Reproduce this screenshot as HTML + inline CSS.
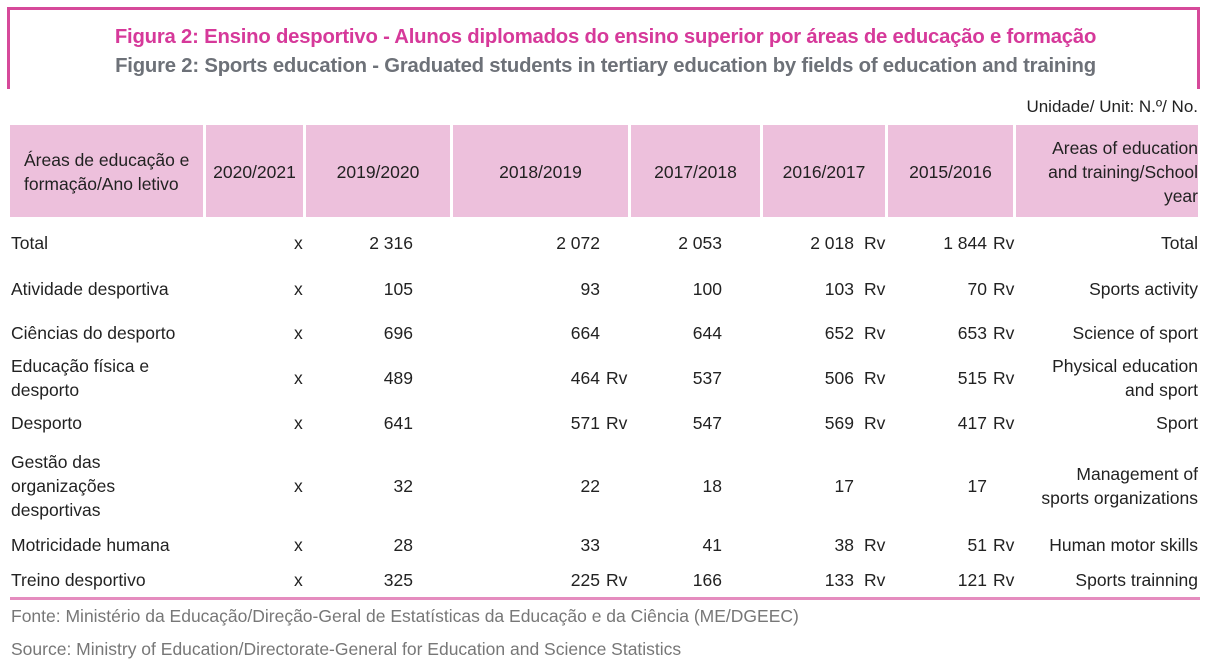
<!DOCTYPE html>
<html><head><meta charset="utf-8"><style>
body{margin:0;width:1211px;height:671px;background:#fff;position:relative;overflow:hidden;font-family:"Liberation Sans",sans-serif;color:#222;}
.a{position:absolute;white-space:nowrap;font-size:17.5px;line-height:24px;}
.h{position:absolute;top:125px;height:92px;background:#edc0dc;display:flex;align-items:center;justify-content:center;text-align:center;font-size:17.5px;line-height:24px;padding-top:1px;box-sizing:border-box;}
.r{text-align:right;}
</style></head><body>
<div style="position:absolute;left:8px;top:7px;width:1191px;height:3px;background:#d6499a"></div>
<div style="position:absolute;left:7px;top:7px;width:3px;height:82px;background:#d6499a"></div>
<div style="position:absolute;left:1197px;top:7px;width:3px;height:82px;background:#d6499a"></div>
<div class="a" style="left:0;width:1211px;text-align:center;top:25px;font-weight:bold;font-size:20.3px;color:#d6399a;letter-spacing:-0.2px">Figura 2: Ensino desportivo - Alunos diplomados do ensino superior por áreas de educação e formação</div>
<div class="a" style="left:0;width:1211px;text-align:center;top:54px;font-weight:bold;font-size:20.3px;color:#6d7178;letter-spacing:-0.2px">Figure 2: Sports education - Graduated students in tertiary education by fields of education and training</div>
<div class="a r" style="right:13px;top:95px;font-size:17px">Unidade/ Unit: N.º/ No.</div>
<div class="h" style="left:10px;width:193px;justify-content:flex-start;text-align:left;padding-left:14px">Áreas de educação e<br>formação/Ano letivo</div>
<div class="h" style="left:206px;width:97px">2020/2021</div>
<div class="h" style="left:306px;width:144px">2019/2020</div>
<div class="h" style="left:453px;width:175px">2018/2019</div>
<div class="h" style="left:631px;width:129px">2017/2018</div>
<div class="h" style="left:763px;width:122px">2016/2017</div>
<div class="h" style="left:888px;width:125px">2015/2016</div>
<div class="h" style="left:1016px;width:182px;justify-content:flex-end;text-align:right">Areas of education<br>and training/School<br>year</div>

<div style="position:absolute;left:10px;top:597px;width:1190px;height:3px;background:#e58cbf"></div>
<div class="a" style="left:11px;top:604px;color:#777;font-size:17.5px">Fonte: Ministério da Educação/Direção-Geral de Estatísticas da Educação e da Ciência (ME/DGEEC)</div>
<div class="a" style="left:11px;top:637px;color:#777;font-size:17.5px">Source: Ministry of Education/Directorate-General for Education and Science Statistics</div>

<div class="a" style="left:11px;top:231px">Total</div>
<div class="a" style="left:11px;top:277px">Atividade desportiva</div>
<div class="a" style="left:11px;top:321px">Ciências do desporto</div>
<div class="a" style="left:11px;top:354px">Educação física e<br>desporto</div>
<div class="a" style="left:11px;top:411px">Desporto</div>
<div class="a" style="left:11px;top:450px">Gestão das<br>organizações<br>desportivas</div>
<div class="a" style="left:11px;top:533px">Motricidade humana</div>
<div class="a" style="left:11px;top:568px">Treino desportivo</div>

<div class="a r" style="right:13px;top:231px">Total</div>
<div class="a r" style="right:13px;top:277px">Sports activity</div>
<div class="a r" style="right:13px;top:321px">Science of sport</div>
<div class="a r" style="right:13px;top:354px">Physical education<br>and sport</div>
<div class="a r" style="right:13px;top:411px">Sport</div>
<div class="a r" style="right:13px;top:462px">Management of<br>sports organizations</div>
<div class="a r" style="right:13px;top:533px">Human motor skills</div>
<div class="a r" style="right:13px;top:568px">Sports trainning</div>

<div class="a" style="left:294px;top:231px">x</div>
<div class="a" style="left:294px;top:277px">x</div>
<div class="a" style="left:294px;top:321px">x</div>
<div class="a" style="left:294px;top:366px">x</div>
<div class="a" style="left:294px;top:411px">x</div>
<div class="a" style="left:294px;top:474px">x</div>
<div class="a" style="left:294px;top:533px">x</div>
<div class="a" style="left:294px;top:568px">x</div>

<div class="a r" style="right:798px;top:231px">2 316</div>
<div class="a r" style="right:798px;top:277px">105</div>
<div class="a r" style="right:798px;top:321px">696</div>
<div class="a r" style="right:798px;top:366px">489</div>
<div class="a r" style="right:798px;top:411px">641</div>
<div class="a r" style="right:798px;top:474px">32</div>
<div class="a r" style="right:798px;top:533px">28</div>
<div class="a r" style="right:798px;top:568px">325</div>

<div class="a r" style="right:611px;top:231px">2 072</div>
<div class="a r" style="right:611px;top:277px">93</div>
<div class="a r" style="right:611px;top:321px">664</div>
<div class="a r" style="right:611px;top:366px">464</div><div class="a" style="left:606px;top:366px">Rv</div>
<div class="a r" style="right:611px;top:411px">571</div><div class="a" style="left:606px;top:411px">Rv</div>
<div class="a r" style="right:611px;top:474px">22</div>
<div class="a r" style="right:611px;top:533px">33</div>
<div class="a r" style="right:611px;top:568px">225</div><div class="a" style="left:606px;top:568px">Rv</div>

<div class="a r" style="right:489px;top:231px">2 053</div>
<div class="a r" style="right:489px;top:277px">100</div>
<div class="a r" style="right:489px;top:321px">644</div>
<div class="a r" style="right:489px;top:366px">537</div>
<div class="a r" style="right:489px;top:411px">547</div>
<div class="a r" style="right:489px;top:474px">18</div>
<div class="a r" style="right:489px;top:533px">41</div>
<div class="a r" style="right:489px;top:568px">166</div>

<div class="a r" style="right:357px;top:231px">2 018</div><div class="a" style="left:864px;top:231px">Rv</div>
<div class="a r" style="right:357px;top:277px">103</div><div class="a" style="left:864px;top:277px">Rv</div>
<div class="a r" style="right:357px;top:321px">652</div><div class="a" style="left:864px;top:321px">Rv</div>
<div class="a r" style="right:357px;top:366px">506</div><div class="a" style="left:864px;top:366px">Rv</div>
<div class="a r" style="right:357px;top:411px">569</div><div class="a" style="left:864px;top:411px">Rv</div>
<div class="a r" style="right:357px;top:474px">17</div>
<div class="a r" style="right:357px;top:533px">38</div><div class="a" style="left:864px;top:533px">Rv</div>
<div class="a r" style="right:357px;top:568px">133</div><div class="a" style="left:864px;top:568px">Rv</div>

<div class="a r" style="right:224px;top:231px">1 844</div><div class="a" style="left:993px;top:231px">Rv</div>
<div class="a r" style="right:224px;top:277px">70</div><div class="a" style="left:993px;top:277px">Rv</div>
<div class="a r" style="right:224px;top:321px">653</div><div class="a" style="left:993px;top:321px">Rv</div>
<div class="a r" style="right:224px;top:366px">515</div><div class="a" style="left:993px;top:366px">Rv</div>
<div class="a r" style="right:224px;top:411px">417</div><div class="a" style="left:993px;top:411px">Rv</div>
<div class="a r" style="right:224px;top:474px">17</div>
<div class="a r" style="right:224px;top:533px">51</div><div class="a" style="left:993px;top:533px">Rv</div>
<div class="a r" style="right:224px;top:568px">121</div><div class="a" style="left:993px;top:568px">Rv</div>
</body></html>
